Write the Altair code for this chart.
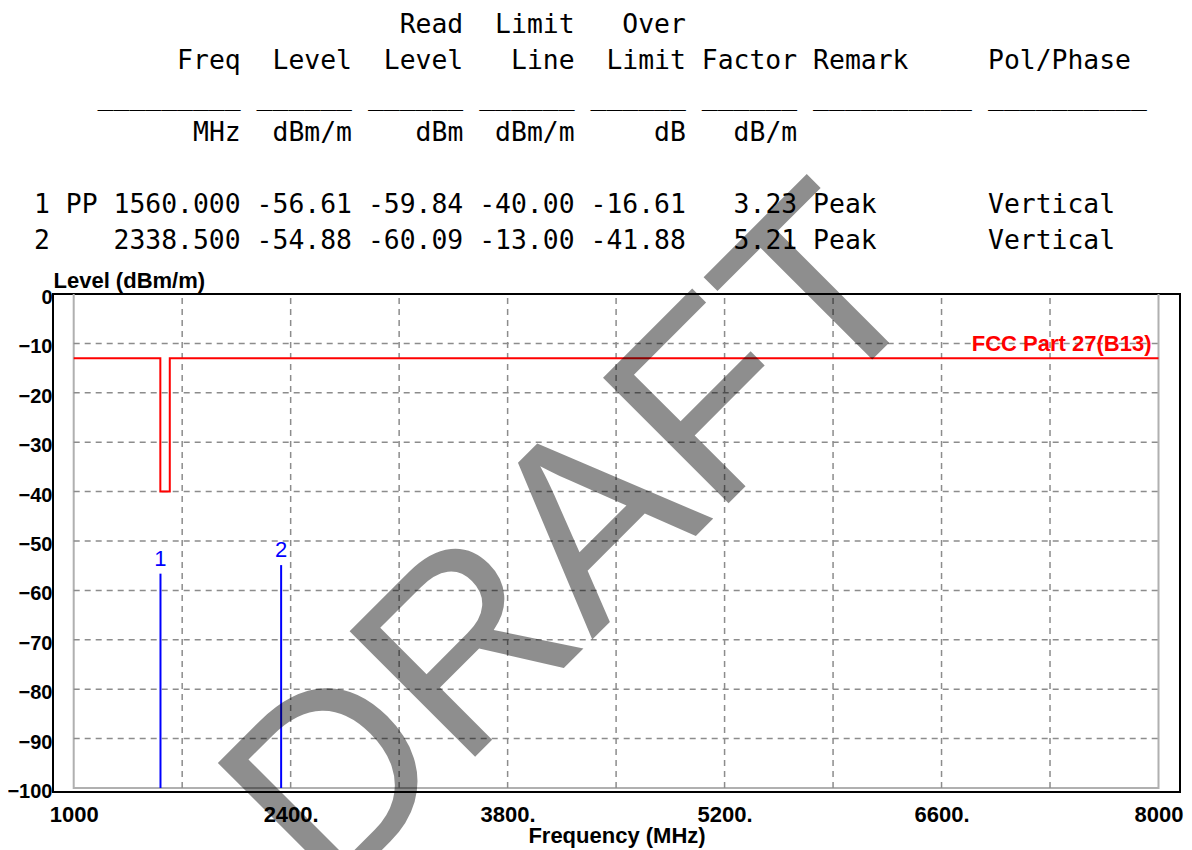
import re
import altair as alt
import pandas as pd

# ---------------- table values ----------------
nos = ["1", "2"]
marks = ["PP", ""]
freqs = [1560.000, 2338.500]
levels = [-56.61, -54.88]
read_levels = [-59.84, -60.09]
limit_lines = [-40.00, -13.00]
over_limits = [-16.61, -41.88]
factors = [3.23, 5.21]
remarks = ["Peak", "Peak"]
pols = ["Vertical", "Vertical"]

header1 = ["", "", "", "", "Read", "Limit", "Over", "", "", ""]
header2 = ["", "", "Freq", "Level", "Level", "Line", "Limit", "Factor", "Remark", "Pol/Phase"]
rules_row = ["", "", "_" * 9, "_" * 6, "_" * 6, "_" * 6, "_" * 6, "_" * 6, "_" * 10, "_" * 10]
units = ["", "", "MHz", "dBm/m", "dBm", "dBm/m", "dB", "dB/m", "", ""]

# ---------------- chart values ----------------
limit_freq = [1000, 1559, 1559, 1620, 1620, 8000]
limit_level = [-13, -13, -40, -40, -13, -13]
limit_name = "FCC Part 27(B13)"

x_ticks = [1000, 2400, 3800, 5200, 6600, 8000]
x_grid = [1700, 2400, 3100, 3800, 4500, 5200, 5900, 6600, 7300]
y_ticks = [0, -10, -20, -30, -40, -50, -60, -70, -80, -90, -100]
y_grid = [-10, -20, -30, -40, -50, -60, -70, -80, -90]
x_range = [1000, 8000]
y_range = [-100, 0]

watermark_text = "DRAFT"


def fmt(c):
    return (f"{c[0]:<1} {c[1]:<2}{c[2]:>9} {c[3]:>6} {c[4]:>6} {c[5]:>6} "
            f"{c[6]:>6} {c[7]:>6} {c[8]:<10} {c[9]:<10}")


rows = [header1, header2, rules_row, units]
for i in range(len(nos)):
    rows.append([nos[i], marks[i], f"{freqs[i]:.3f}", f"{levels[i]:.2f}",
                 f"{read_levels[i]:.2f}", f"{limit_lines[i]:.2f}",
                 f"{over_limits[i]:.2f}", f"{factors[i]:.2f}", remarks[i], pols[i]])
line_idx = [0, 1, 2, 3, 5, 6]
cells = []
for li, r in zip(line_idx, rows):
    for m in re.finditer(r"\S+", fmt(r)):
        cells.append({"line": li, "col": m.start(), "text": m.group()})
table_df = pd.DataFrame(cells)

W = 1127
TABLE_H = 270
PLOT_H = 498
COL_PX = 15.9
LINE_PX = 36.0

tx0 = 19 / COL_PX
ty0 = -24.6 / LINE_PX
table = alt.Chart(table_df).mark_text(
    font="DejaVu Sans Mono", fontSize=26.4, align="left", baseline="alphabetic", color="black"
).encode(
    x=alt.X("col:Q", scale=alt.Scale(domain=[tx0, tx0 + W / COL_PX], nice=False, zero=False), axis=None),
    y=alt.Y("line:Q", scale=alt.Scale(domain=[ty0, ty0 + TABLE_H / LINE_PX], nice=False, zero=False,
                                      reverse=True), axis=None),
    text="text:N",
).properties(width=W, height=TABLE_H, view=alt.ViewBackground(strokeOpacity=0))

# ---------------- plot ----------------
px_per_mhz = 1084.8 / 7000
xmin = 1000 - 20.7 / px_per_mhz
xs = alt.Scale(domain=[xmin, xmin + W / px_per_mhz], nice=False, zero=False)
ys = alt.Scale(domain=[-100.81, 0], nice=False, zero=False)

FONT = "Liberation Sans"

x_axis = alt.Axis(values=x_ticks, format="d",
                  labelExpr="datum.value == 1000 || datum.value == 8000 ? datum.label : datum.label + '.'",
                  labelFont=FONT, labelFontSize=22, labelFontWeight="bold", labelColor="black",
                  labelPadding=12, labelFlush=False, ticks=False, tickSize=0, domain=False, grid=False,
                  title="Frequency (MHz)", titleFont=FONT, titleFontSize=22, titleFontWeight="bold",
                  titleColor="black", titleY=33, titleBaseline="top")
y_axis = alt.Axis(values=y_ticks, format="d", labelFont=FONT, labelFontSize=20,
                  labelFontWeight="bold", labelColor="black", labelPadding=1, labelOffset=3.5,
                  labelFlush=False, ticks=False, tickSize=0, domain=False, grid=False,
                  title="Level (dBm/m)", titleFont=FONT, titleFontSize=22, titleFontWeight="bold",
                  titleColor="black", titleAngle=0, titleAlign="left", titleBaseline="alphabetic",
                  titleX=0, titleY=-7)


def X(field):
    return alt.X(field, scale=xs, axis=x_axis)


def Y(field):
    return alt.Y(field, scale=ys, axis=y_axis)


frame_df = pd.DataFrame({"f": [x_range[0], x_range[0], x_range[1], x_range[1]],
                         "lv": [y_range[1], y_range[0], y_range[0], y_range[1]],
                         "i": [0, 1, 2, 3]})
frame = alt.Chart(frame_df).mark_line(color="#b0b0b0", strokeWidth=2).encode(
    x=X("f:Q"), y=Y("lv:Q"), order="i:Q",
)

vgrid_df = pd.DataFrame({"f": x_grid, "lv": [y_range[0]] * len(x_grid), "hi": [y_range[1]] * len(x_grid)})
vgrid = alt.Chart(vgrid_df).mark_rule(color="#8c8c8c", strokeWidth=1.5, strokeDash=[6, 5]).encode(
    x=X("f:Q"), y=Y("lv:Q"), y2="hi:Q",
)

hgrid_df = pd.DataFrame({"lv": y_grid, "f": [x_range[0]] * len(y_grid), "hi": [x_range[1]] * len(y_grid)})
hgrid = alt.Chart(hgrid_df).mark_rule(color="#8c8c8c", strokeWidth=1.5, strokeDash=[6, 5]).encode(
    y=Y("lv:Q"), x=X("f:Q"), x2="hi:Q",
)

limit_df = pd.DataFrame({"f": limit_freq, "lv": limit_level, "i": list(range(len(limit_freq)))})
limit = alt.Chart(limit_df).mark_line(color="#ff0000", strokeWidth=2).encode(
    x=X("f:Q"), y=Y("lv:Q"), order="i:Q",
)

limit_lab_df = pd.DataFrame({"f": [limit_freq[-1]], "lv": [limit_level[-1]], "t": [limit_name]})
limit_lab = alt.Chart(limit_lab_df).mark_text(
    color="#ff0000", font=FONT, fontSize=22, fontWeight="bold", align="right",
    baseline="alphabetic", dx=-7, dy=-7
).encode(x=X("f:Q"), y=Y("lv:Q"), text="t:N")

mk_df = pd.DataFrame({"f": freqs, "lv": levels, "hi": [y_range[0]] * len(freqs), "no": nos})
markers = alt.Chart(mk_df).mark_rule(color="#0000ff", strokeWidth=2).encode(
    x=X("f:Q"), y=Y("lv:Q"), y2="hi:Q",
)
marker_labels = alt.Chart(mk_df).mark_text(
    color="#0000ff", font=FONT, fontSize=22, baseline="alphabetic", dy=-8
).encode(x=X("f:Q"), y=Y("lv:Q"), text="no:N")

wm_df = pd.DataFrame({"f": [4254], "lv": [-50.8], "t": [watermark_text]})
watermark = alt.Chart(wm_df).mark_text(
    font=FONT, fontSize=258, angle=315, color="black", opacity=0.44,
    align="center", baseline="middle"
).encode(x=X("f:Q"), y=Y("lv:Q"), text="t:N")

plot = alt.layer(frame, vgrid, hgrid, limit, limit_lab, markers, marker_labels, watermark).properties(
    width=W, height=PLOT_H, view=alt.ViewBackground(stroke="black", strokeWidth=2)
)

chart = alt.vconcat(table, plot, spacing=16, bounds="flush").properties(
    padding={"left": -3, "top": 0, "right": 0, "bottom": 0}, background="white"
)

chart.save("out.html", embed_options={"renderer": "svg", "actions": False})
